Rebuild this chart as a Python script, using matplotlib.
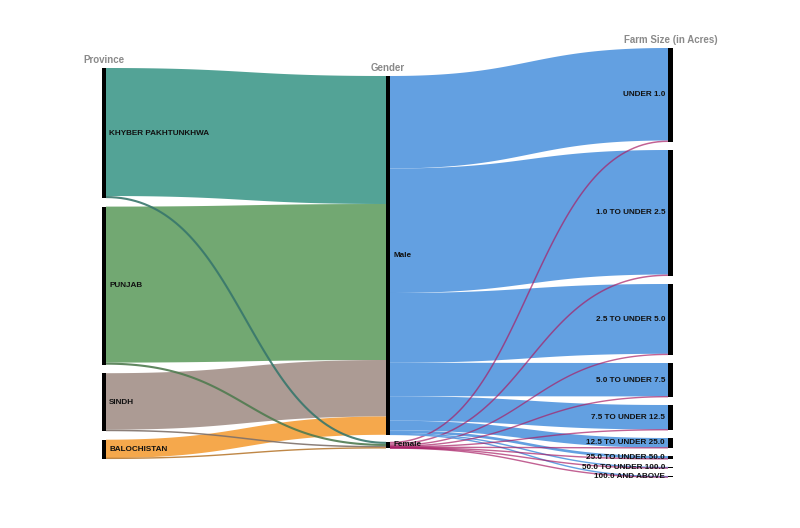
#!/usr/bin/env python3
"""
Sankey chart: Province -> Gender -> Farm Size (in Acres).
"""

import numpy as np
import matplotlib
matplotlib.use('Agg')
import matplotlib.pyplot as plt
from matplotlib.patches import Rectangle
from matplotlib.colors import to_rgb

plt.rcParams['font.family'] = ['Liberation Sans', 'DejaVu Sans']

# ---- data (farm counts, relative units) ----
provinces = ["KHYBER PAKHTUNKHWA", "PUNJAB", "SINDH", "BALOCHISTAN"]
genders = ["Male", "Female"]
farm_sizes = ["UNDER 1.0", "1.0 TO UNDER 2.5", "2.5 TO UNDER 5.0",
              "5.0 TO UNDER 7.5", "7.5 TO UNDER 12.5", "12.5 TO UNDER 25.0",
              "25.0 TO UNDER 50.0", "50.0 TO UNDER 100.0", "100.0 AND ABOVE"]

province_male = [128.0, 156.0, 56.5, 18.3]
province_female = [2.1, 2.1, 1.5, 0.7]
male_size = [92.5, 124.5, 69.8, 33.4, 24.5, 9.6, 2.7, 1.0, 0.8]
female_size = [1.5, 1.5, 1.2, 0.6, 0.5, 0.4, 0.3, 0.2, 0.2]

column_titles = ["Province", "Gender", "Farm Size (in Acres)"]

# ---- style / layout ----
PROV_COLORS = ["#4a9e90", "#6aa46a", "#a8968e", "#f5a342"]
GENDER_COLORS = ["#5b9be0", "#a81f66"]
COL_X = [102, 386, 668]          # left edge of node bars
BAR_W = [4, 4, 5]
COL_TOP = [68, 76, 48]
GAP = [8.5, 7.0, 8.0]
SCALE = 1.0                      # px per unit


def layout(values, top, gap):
    ys = []
    y = top
    for v in values:
        h = v * SCALE
        ys.append([y, y + h])
        y += h + gap
    return ys


def darker(c, f=0.75):
    r, g, b = to_rgb(c)
    return (r * f, g * f, b * f)


prov_tot = [m + f for m, f in zip(province_male, province_female)]
gender_tot = [sum(province_male), sum(province_female)]
size_tot = [m + f for m, f in zip(male_size, female_size)]

nodes = [layout(prov_tot, COL_TOP[0], GAP[0]),
         layout(gender_tot, COL_TOP[1], GAP[1]),
         layout(size_tot, COL_TOP[2], GAP[2])]

# links: (col, src, tgt, value, color, alpha)
links = []
for i in range(len(provinces)):
    links.append((0, i, 0, province_male[i], PROV_COLORS[i], 0.95))
    links.append((0, i, 1, province_female[i], darker(PROV_COLORS[i]), 0.9))
for j in range(len(farm_sizes)):
    links.append((1, 0, j, male_size[j], GENDER_COLORS[0], 0.95))
    links.append((1, 1, j, female_size[j], GENDER_COLORS[1], 0.7))

# stack link offsets at each end (ordered by the other end's position)
out_off = {}
in_off = {}
link_geom = []
for col, s, t, v, c, a in sorted(links, key=lambda l: (l[0], l[1], l[2])):
    y0 = out_off.get((col, s), nodes[col][s][0])
    out_off[(col, s)] = y0 + v * SCALE
    link_geom.append([col, s, t, v, c, a, y0])
for g in sorted(link_geom, key=lambda l: (l[0], l[2], l[1])):
    col, s, t = g[0], g[1], g[2]
    y1 = in_off.get((col, t), nodes[col + 1][t][0])
    in_off[(col, t)] = y1 + g[3] * SCALE
    g.append(y1)

fig = plt.figure(figsize=(8, 5.28), dpi=100)
ax = fig.add_axes([0, 0, 1, 1])
ax.set_xlim(0, 800)
ax.set_ylim(528, 0)
ax.axis('off')


def bezier(x0, x1, y0, y1, n=80):
    t = np.linspace(0, 1, n)
    xm = (x0 + x1) / 2
    x = (1 - t) ** 3 * x0 + 3 * (1 - t) ** 2 * t * xm + 3 * (1 - t) * t ** 2 * xm + t ** 3 * x1
    y = (1 - t) ** 3 * y0 + 3 * (1 - t) ** 2 * t * y0 + 3 * (1 - t) * t ** 2 * y1 + t ** 3 * y1
    return x, y


# thick links first, thin ones on top
for col, s, t, v, c, a, y0, y1 in sorted(link_geom, key=lambda l: -l[3]):
    x0 = COL_X[col] + BAR_W[col]
    x1 = COL_X[col + 1]
    h = v * SCALE
    xt, yt = bezier(x0, x1, y0, y1)
    xb, yb = bezier(x0, x1, y0 + h, y1 + h)
    if h >= 2.5:
        ax.fill(np.concatenate([xt, xb[::-1]]), np.concatenate([yt, yb[::-1]]),
                color=c, alpha=a, lw=0, zorder=2)
    else:
        ax.plot(xt, yt + h / 2, color=c, alpha=a, lw=max(h, 1.4) * 0.72,
                solid_capstyle='butt', zorder=3)

# node bars
for col in range(3):
    for y0, y1 in nodes[col]:
        ax.add_patch(Rectangle((COL_X[col], y0), BAR_W[col], max(y1 - y0, 1.2),
                               color="black", lw=0, zorder=4))

label_kw = dict(fontsize=5.9, fontweight='bold', color="#111111", va='center', zorder=5)
for name, (y0, y1) in zip(provinces, nodes[0]):
    ax.text(COL_X[0] + BAR_W[0] + 3, (y0 + y1) / 2, name, ha='left', **label_kw)
for name, (y0, y1) in zip(genders, nodes[1]):
    ax.text(COL_X[1] + BAR_W[1] + 3, (y0 + y1) / 2, name, ha='left', **label_kw)
for name, (y0, y1) in zip(farm_sizes, nodes[2]):
    ax.text(COL_X[2] - 3, (y0 + y1) / 2, name, ha='right', **label_kw)

for col, title in enumerate(column_titles):
    ax.text(COL_X[col] + BAR_W[col] / 2, nodes[col][0][0] - 3, title,
            ha='center', va='bottom', fontsize=7, fontweight='bold', color="#8a8a8a")

plt.savefig("out.png", dpi=100)
plt.close()
